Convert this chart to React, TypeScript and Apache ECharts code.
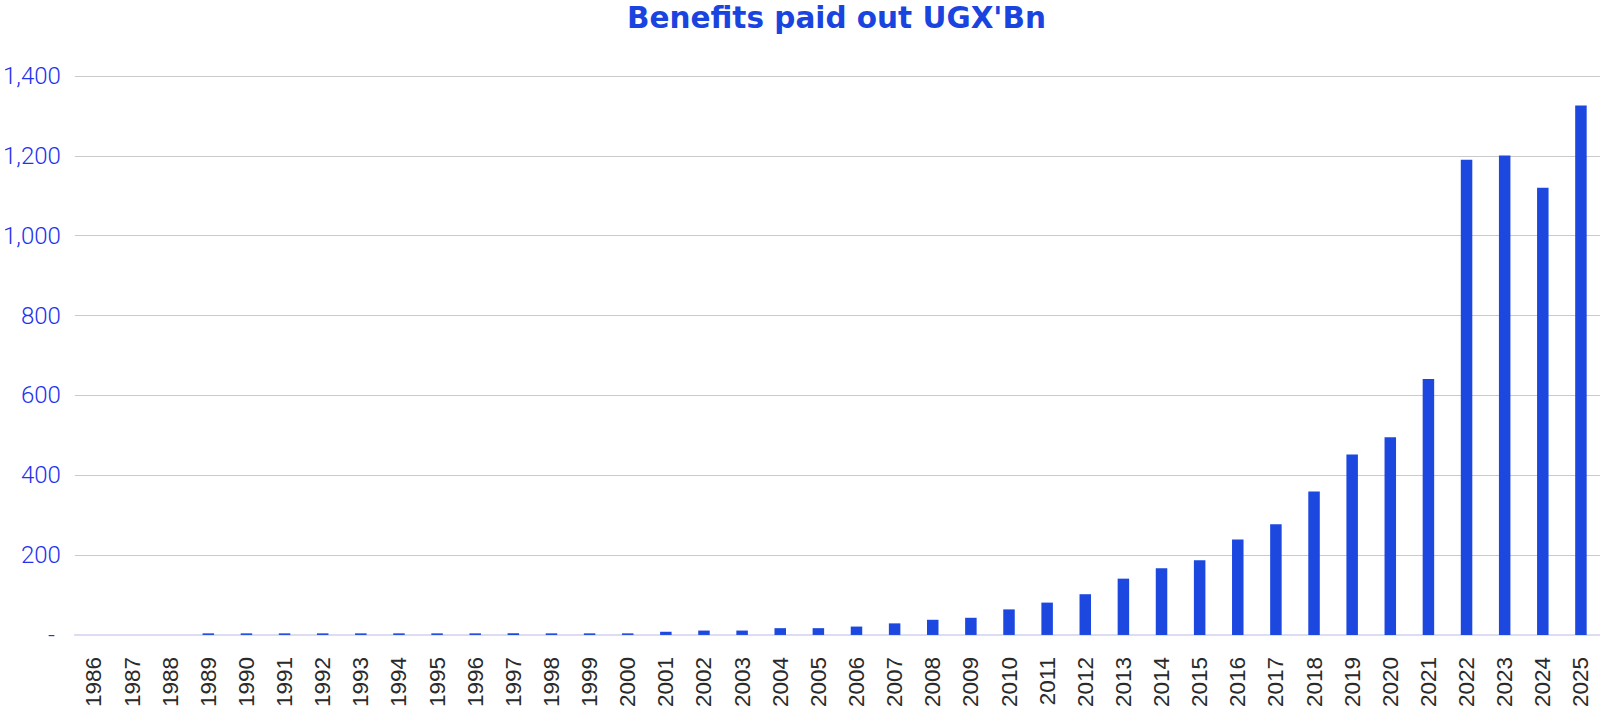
import React, { useEffect, useRef } from "react";
import * as echarts from "echarts";

const title = "Benefits paid out UGX'Bn";

const years = [
  "1986", "1987", "1988", "1989", "1990", "1991", "1992", "1993", "1994", "1995",
  "1996", "1997", "1998", "1999", "2000", "2001", "2002", "2003", "2004", "2005",
  "2006", "2007", "2008", "2009", "2010", "2011", "2012", "2013", "2014", "2015",
  "2016", "2017", "2018", "2019", "2020", "2021", "2022", "2023", "2024", "2025",
];

const benefits = [
  0, 0, 0, 4, 4, 4, 4, 4, 4, 4,
  4, 4, 4, 4, 4, 8, 11, 11, 17, 17,
  21, 29, 38, 43, 64, 81, 102, 141, 167, 187,
  239, 277, 359, 452, 495, 641, 1190, 1201, 1120, 1326,
];

const yTicks = { min: 0, max: 1400, interval: 200 };

export default function App() {
  const ref = useRef<HTMLDivElement>(null);

  useEffect(() => {
    document.body.style.margin = "0";
    const chart = echarts.init(ref.current!, null, { renderer: "svg" });
    chart.setOption({
      animation: false,
      backgroundColor: "#ffffff",
      title: {
        text: title,
        left: 627,
        top: 0,
        padding: 0,
        textStyle: {
          fontFamily: "DejaVu Sans",
          fontWeight: 700,
          fontSize: 29.5,
          lineHeight: 36,
          color: "#1a44e0",
        },
      },
      grid: { left: 71, right: 0, top: 76, bottom: 72.5, containLabel: false },
      xAxis: {
        type: "category",
        data: years,
        axisLine: { show: true, lineStyle: { color: "#dcdcf2", width: 2 } },
        axisTick: { show: false },
        axisLabel: {
          rotate: 90,
          margin: 22,
          interval: 0,
          color: "#2a2a2a",
          fontFamily: "Liberation Sans",
          fontSize: 22.5,
        },
      },
      yAxis: {
        type: "value",
        min: yTicks.min,
        max: yTicks.max,
        interval: yTicks.interval,
        axisLine: { show: false },
        axisTick: { show: false },
        splitLine: { lineStyle: { color: "#cacaca", width: 1 } },
        axisLabel: {
          margin: 14,
          color: "#2233ee",
          fontFamily: "Roboto",
          fontWeight: 300,
          fontSize: 24,
          formatter: (v: number) => (v === 0 ? "- " : v.toLocaleString("en-US")),
        },
      },
      series: [
        {
          type: "bar",
          data: benefits,
          barWidth: 11.5,
          itemStyle: { color: "#1c48e0" },
        },
      ],
    });
    return () => chart.dispose();
  }, []);

  return (
    <div
      ref={ref}
      style={{ position: "absolute", left: 0, top: 0, width: 1600, height: 710 }}
    />
  );
}
